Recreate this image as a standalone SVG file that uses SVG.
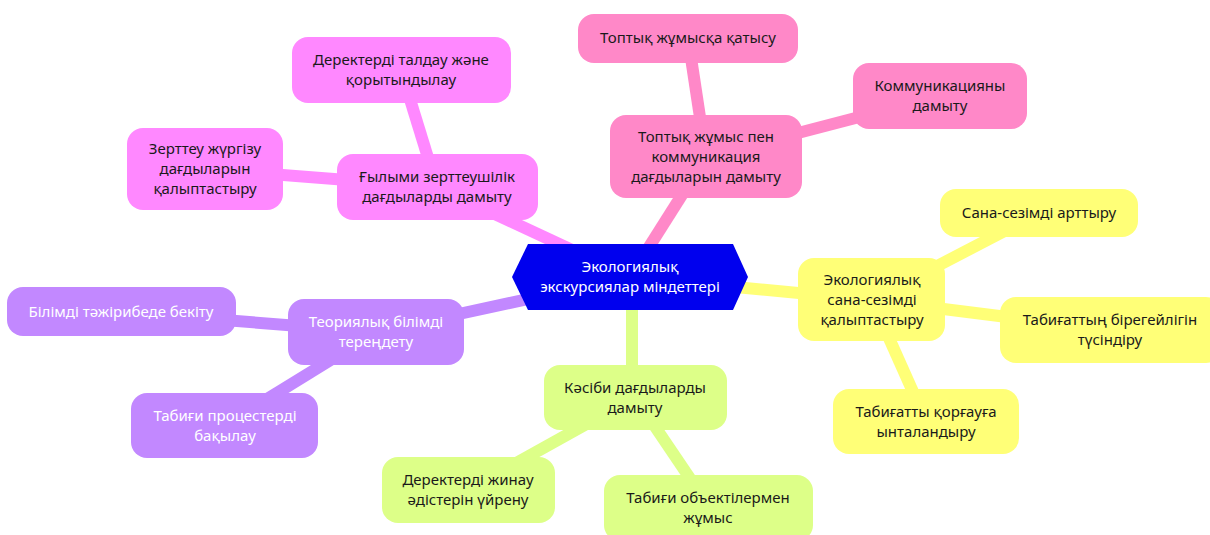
<svg xmlns="http://www.w3.org/2000/svg" width="1210" height="535" viewBox="0 0 1210 535">
<style>
text{font-family:"Noto Sans","DejaVu Sans",sans-serif;font-size:15px;text-anchor:middle;fill:#1a1a1a}
.w{fill:#ffffff}
.c line{stroke-width:12;stroke-linecap:butt}
.mg{fill:#ff88ff}.rs{fill:#ff88c8}.yl{fill:#ffff77}.pu{fill:#c288ff}.gr{fill:#ddff88}
</style>
<rect width="1210" height="535" fill="#ffffff"/>
<g id="connectors" class="c">
<line x1="437" y1="187" x2="630" y2="277" stroke="#ff88ff"/>
<line x1="401" y1="70" x2="437" y2="187" stroke="#ff88ff"/>
<line x1="205" y1="169" x2="437" y2="187" stroke="#ff88ff"/>
<line x1="706" y1="157" x2="630" y2="277" stroke="#ff88c8"/>
<line x1="688" y1="38" x2="706" y2="157" stroke="#ff88c8"/>
<line x1="940" y1="96" x2="706" y2="157" stroke="#ff88c8"/>
<line x1="872" y1="300" x2="630" y2="277" stroke="#ffff77"/>
<line x1="872" y1="300" x2="1039" y2="213" stroke="#ffff77"/>
<line x1="872" y1="300" x2="1110" y2="330" stroke="#ffff77"/>
<line x1="872" y1="300" x2="926" y2="421" stroke="#ffff77"/>
<line x1="376" y1="332" x2="630" y2="277" stroke="#c288ff"/>
<line x1="376" y1="332" x2="121" y2="312" stroke="#c288ff"/>
<line x1="376" y1="332" x2="225" y2="425" stroke="#c288ff"/>
<line x1="632" y1="397" x2="632" y2="277" stroke="#ddff88"/>
<line x1="635" y1="397" x2="468" y2="490" stroke="#ddff88"/>
<line x1="635" y1="397" x2="708" y2="505" stroke="#ddff88"/>
</g>
<g id="center">
<polygon points="512,277 528,244 733,244 748,277 733,310 528,310" fill="#0000ee"/>
<text class="w" x="630" y="272">Экологиялық</text>
<text class="w" x="630" y="292">экскурсиялар міндеттері</text>
</g>
<g id="n-science">
<rect class="mg" x="337" y="154" width="201" height="66" rx="16"/>
<text x="437" y="182">Ғылыми зерттеушілік</text>
<text x="437" y="202">дағдыларды дамыту</text>
</g>
<g id="n-data-analysis">
<rect class="mg" x="292" y="37" width="219" height="66" rx="16"/>
<text x="401" y="65">Деректерді талдау және</text>
<text x="401" y="85">қорытындылау</text>
</g>
<g id="n-research">
<rect class="mg" x="127" y="128" width="156" height="82" rx="16"/>
<text x="205" y="154">Зерттеу жүргізу</text>
<text x="205" y="174">дағдыларын</text>
<text x="205" y="194">қалыптастыру</text>
</g>
<g id="n-team">
<rect class="rs" x="610" y="115" width="192" height="83" rx="16"/>
<text x="706" y="142">Топтық жұмыс пен</text>
<text x="706" y="162">коммуникация</text>
<text x="706" y="182">дағдыларын дамыту</text>
</g>
<g id="n-team-part">
<rect class="rs" x="578" y="14" width="220" height="49" rx="16"/>
<text x="688" y="43">Топтық жұмысқа қатысу</text>
</g>
<g id="n-comm">
<rect class="rs" x="853" y="63" width="174" height="66" rx="16"/>
<text x="940" y="91">Коммуникацияны</text>
<text x="940" y="111">дамыту</text>
</g>
<g id="n-eco">
<rect class="yl" x="798" y="258" width="147" height="83" rx="16"/>
<text x="872" y="285">Экологиялық</text>
<text x="872" y="305">сана-сезімді</text>
<text x="872" y="325">қалыптастыру</text>
</g>
<g id="n-aware">
<rect class="yl" x="940" y="189" width="198" height="48" rx="16"/>
<text x="1039" y="218">Сана-сезімді арттыру</text>
</g>
<g id="n-unique">
<rect class="yl" x="1000" y="297" width="222" height="66" rx="16"/>
<text x="1110" y="325">Табиғаттың бірегейлігін</text>
<text x="1110" y="345">түсіндіру</text>
</g>
<g id="n-protect">
<rect class="yl" x="833" y="389" width="186" height="65" rx="16"/>
<text x="926" y="417">Табиғатты қорғауға</text>
<text x="926" y="437">ынталандыру</text>
</g>
<g id="n-theory">
<rect class="pu" x="288" y="299" width="176" height="66" rx="16"/>
<text class="w" x="376" y="327">Теориялық білімді</text>
<text class="w" x="376" y="347">тереңдету</text>
</g>
<g id="n-practice">
<rect class="pu" x="7" y="287" width="229" height="49" rx="16"/>
<text class="w" x="121" y="317">Білімді тәжірибеде бекіту</text>
</g>
<g id="n-observe">
<rect class="pu" x="131" y="393" width="187" height="65" rx="16"/>
<text class="w" x="225" y="421">Табиғи процестерді</text>
<text class="w" x="225" y="441">бақылау</text>
</g>
<g id="n-prof">
<rect class="gr" x="544" y="365" width="183" height="65" rx="16"/>
<text x="635" y="393">Кәсіби дағдыларды</text>
<text x="635" y="413">дамыту</text>
</g>
<g id="n-collect">
<rect class="gr" x="382" y="457" width="173" height="66" rx="16"/>
<text x="468" y="485">Деректерді жинау</text>
<text x="468" y="505">әдістерін үйрену</text>
</g>
<g id="n-objects">
<rect class="gr" x="604" y="475" width="209" height="66" rx="16"/>
<text x="708" y="503">Табиғи объектілермен</text>
<text x="708" y="523">жұмыс</text>
</g>
</svg>
